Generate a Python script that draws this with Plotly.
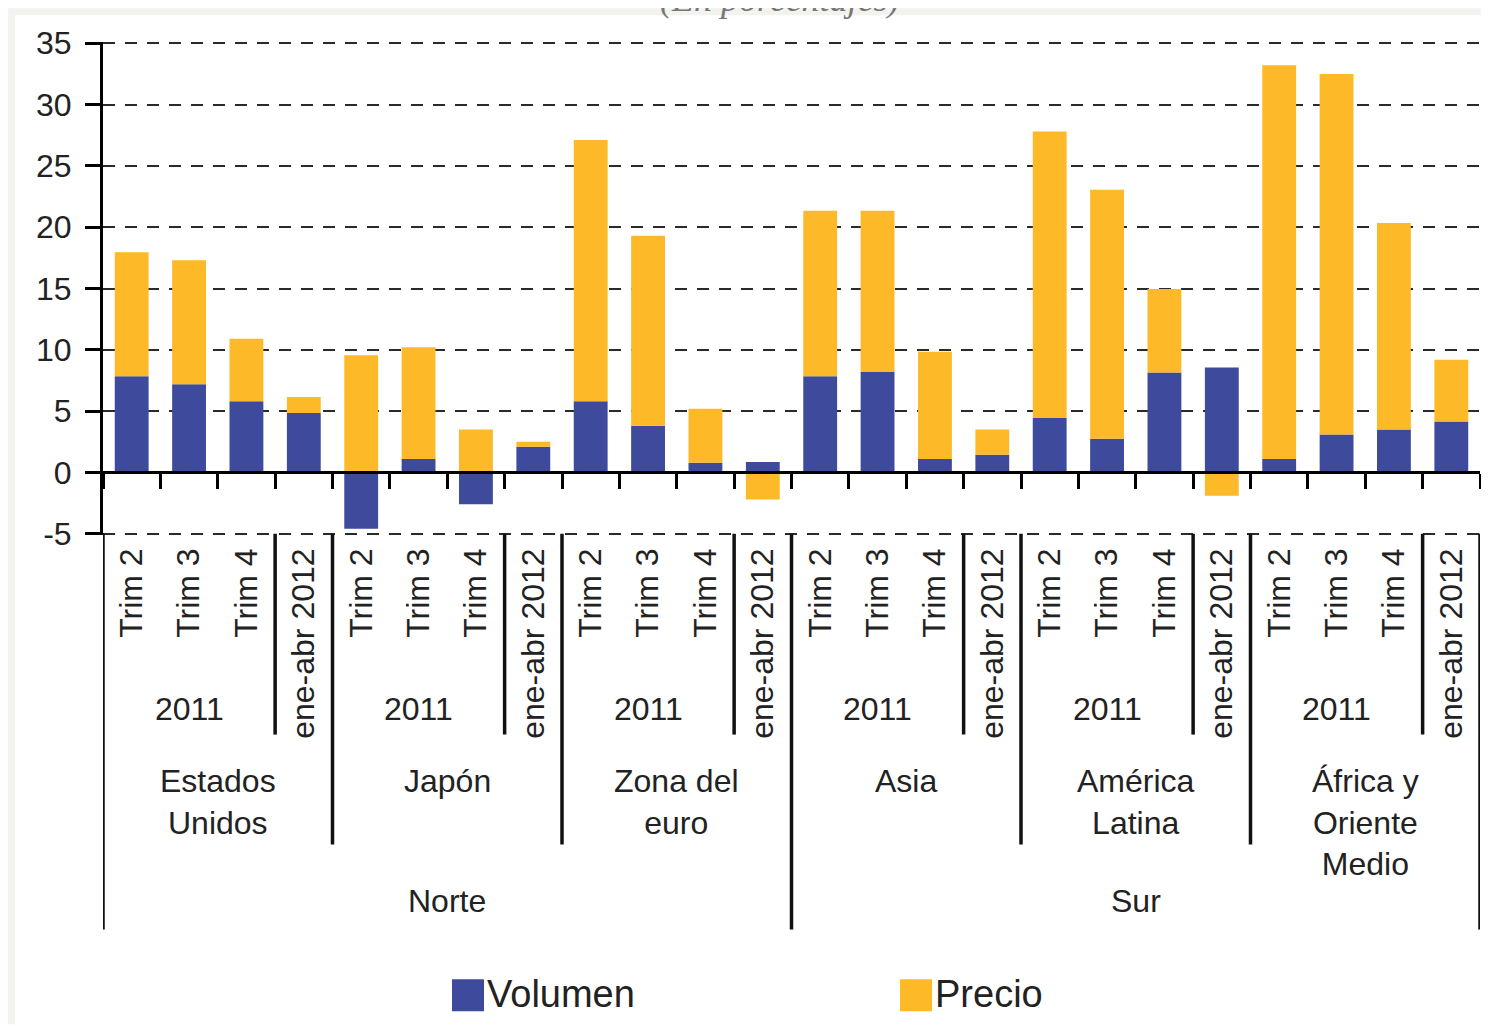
import plotly.graph_objects as go

# categorías del eje
periodos = ["Trim 2", "Trim 3", "Trim 4", "ene-abr 2012"]
anio = "2011"
regiones = ["Estados<br>Unidos", "Japón", "Zona del<br>euro", "Asia",
            "América<br>Latina", "África y<br>Oriente<br>Medio"]
bloques = ["Norte", "Sur"]

# contribuciones (en porcentajes)
volumen = [7.85, 7.2, 5.8, 4.85,
           -4.6, 1.1, -2.6, 2.1,
           5.8, 3.8, 0.8, 0.85,
           7.85, 8.2, 1.1, 1.45,
           4.45, 2.75, 8.15, 8.55,
           1.1, 3.1, 3.5, 4.15]
precio = [10.1, 10.1, 5.1, 1.3,
          9.55, 9.1, 3.5, 0.4,
          21.3, 15.5, 4.4, -2.2,
          13.5, 13.15, 8.75, 2.05,
          23.35, 20.3, 6.8, -1.9,
          32.1, 29.4, 16.85, 5.05]
ytick_vals = [-5, 0, 5, 10, 15, 20, 25, 30, 35]

AZUL = "#3e4b9c"
NARANJA = "#fdb927"
TXT = "#222222"

n = len(volumen)
x = list(range(n))
ymin, ymax = -5, 35
pad = 0.1  # para que se dibujen las líneas de 35 y -5

# la página tiene 8 px de margen; todo se mide en la imagen y se resta
OFF = 8
W, H = 1489 - OFF, 1025 - OFF
escala = (534 - 43) / (ymax - ymin)
L, R = 103 - OFF, 1480 - OFF
T = 43 - OFF - pad * escala
B = 534 - OFF + pad * escala


def py(p):
    return (B - (p - OFF)) / (B - T)


def pxx(p):
    return ((p - OFF) - L) / (R - L)


fig = go.Figure()
fig.add_trace(go.Bar(x=x, y=volumen, name="Volumen",
                     marker=dict(color=AZUL, line_width=0), showlegend=False))
fig.add_trace(go.Bar(x=x, y=precio, name="Precio",
                     marker=dict(color=NARANJA, line_width=0), showlegend=False))
# traza vacía para que se dibuje el eje del cero con sus marcas
fig.add_trace(go.Scatter(x=[], y=[], xaxis="x2", yaxis="y", showlegend=False,
                         hoverinfo="skip"))

shapes = []
linea = dict(color="#111111", width=3.5)
nper = len(periodos)
for k in range(len(regiones)):
    # separador 2011 / ene-abr 2012
    shapes.append(dict(type="line", xref="x", yref="paper",
                       x0=k * nper + 2.5, x1=k * nper + 2.5, y0=py(534), y1=py(735), line=linea))
for k in range(len(regiones) + 1):
    xb = k * nper - 0.5
    largo = k in (0, 3, len(regiones))
    shapes.append(dict(type="line", xref="x", yref="paper",
                       x0=xb, x1=xb, y0=py(534), y1=py(930 if largo else 845), line=linea))

# leyenda dibujada a mano
for x0, col in [(452, AZUL), (900, NARANJA)]:
    shapes.append(dict(type="rect", xref="paper", yref="paper",
                       x0=pxx(x0), x1=pxx(x0 + 32), y0=py(1012), y1=py(980),
                       fillcolor=col, line_width=0))

# marco gris claro
shapes.append(dict(type="rect", xref="paper", yref="paper", layer="below",
                   x0=pxx(8), x1=pxx(1489), y0=py(15), y1=py(8),
                   fillcolor="#f3f2ee", line_width=0))
shapes.append(dict(type="rect", xref="paper", yref="paper", layer="below",
                   x0=pxx(8), x1=pxx(15), y0=py(1025), y1=py(8),
                   fillcolor="#f3f2ee", line_width=0))

annotations = []
for k, reg in enumerate(regiones):
    annotations.append(dict(text=anio, x=k * nper + 1, xref="x", y=py(709), yref="paper",
                            yanchor="middle", showarrow=False))
    annotations.append(dict(text=reg, x=k * nper + 1.5, xref="x", y=py(761), yref="paper",
                            yanchor="top", showarrow=False))
mitad = len(regiones) // 2 * nper
for j, b in enumerate(bloques):
    annotations.append(dict(text=b, x=j * mitad + mitad / 2 - 0.5, xref="x", y=py(902),
                            yref="paper", yanchor="middle", showarrow=False))
for x0, nombre in [(485, "Volumen"), (933, "Precio")]:
    annotations.append(dict(text=nombre, x=pxx(x0), xref="paper", xanchor="left",
                            y=py(995), yref="paper", yanchor="middle", showarrow=False,
                            font=dict(size=38)))
annotations.append(dict(text="<i>(En porcentajes)</i>", x=pxx(780), xref="paper",
                        y=py(21), yref="paper", yanchor="bottom", showarrow=False,
                        font=dict(family="Liberation Serif", size=36, color="#777777")))

fig.update_layout(
    barmode="relative",
    bargap=0.41,
    width=W, height=H,
    margin=dict(l=L, r=W - R, t=T, b=H - B),
    paper_bgcolor="white",
    plot_bgcolor="white",
    font=dict(family="Liberation Sans, Arial, sans-serif", size=32, color=TXT),
    shapes=shapes,
    annotations=annotations,
    xaxis=dict(range=[-0.5, n - 0.5], tickvals=x, ticktext=periodos * len(regiones),
               tickangle=-90, ticks="", showgrid=False, zeroline=False, showline=False,
               ticklabelstandoff=6),
    xaxis2=dict(overlaying="x", anchor="free",
                position=(0 - (ymin - pad)) / (ymax - ymin + 2 * pad),
                range=[-0.5, n - 0.5], tickvals=[i - 0.5 for i in range(n + 1)],
                ticks="outside", ticklen=15, tickwidth=3, tickcolor="black",
                showticklabels=False, showline=True, linecolor="black", linewidth=3,
                showgrid=False, zeroline=False),
    yaxis=dict(range=[ymin - pad, ymax + pad], tickvals=ytick_vals,
               ticktext=[str(v) for v in ytick_vals],
               showgrid=True, gridcolor="#2a2a2a",
               griddash="12px,10px", gridwidth=2, zeroline=False, showline=True,
               linecolor="black", linewidth=3, ticks="outside", ticklen=15, tickwidth=3,
               tickcolor="black", ticklabelstandoff=7),
)

fig.write_html("out.html")
